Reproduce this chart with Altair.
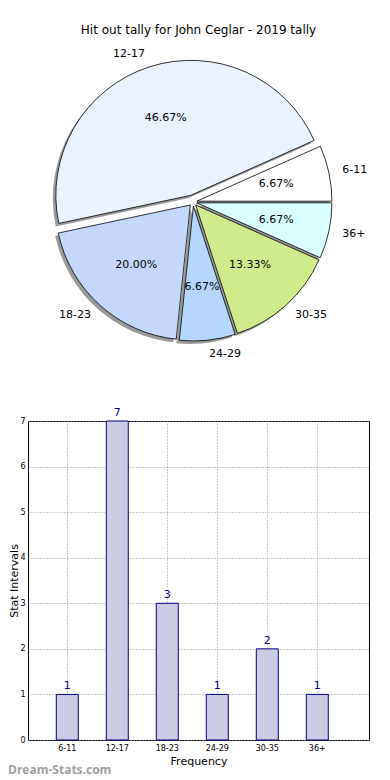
import math
import altair as alt
import pandas as pd

# ---------------- data ----------------
categories = ["6-11", "12-17", "18-23", "24-29", "30-35", "36+"]
counts = [1, 7, 3, 1, 2, 1]
slice_colors = ["#ffffff", "#eaf2fe", "#c4d8fe", "#b5d6fe", "#d0eb8b", "#daffff"]
explode_px = [4, 7, 4, 4, 4, 4]
y_ticks = [0, 1, 2, 3, 4, 5, 6, 7]
title_text = "Hit out tally for John Ceglar - 2019 tally"
watermark = ["Dream-Stats.com"]

TOTAL = sum(counts)
FONT = "DejaVu Sans"

# ---------------- layout ----------------
PIE_W, PIE_H = 341, 340
BAR_W, BAR_H = 341, 319
CX, CY, R = 165, 159, 135
SH_DX, SH_DY = -3, 3

pie_df = pd.DataFrame({
    "category": categories,
    "count": counts,
    "explode": explode_px,
    "order": list(range(len(categories))),
})

theta_scale = alt.Scale(domain=[0, TOTAL], range=[2.5 * math.pi, 0.5 * math.pi])
color_scale = alt.Scale(domain=categories, range=slice_colors)

base = alt.Chart(pie_df).transform_window(
    cum="sum(count)", sort=[alt.SortField("order")], frame=[None, 0]
).transform_calculate(
    start="datum.cum - datum.count",
    mid="datum.cum - datum.count / 2",
    ang=f"2 * PI * (datum.cum - datum.count / 2) / {TOTAL}",
    cx=f"{CX} + datum.explode * cos(datum.ang)",
    cy=f"{CY} - datum.explode * sin(datum.ang)",
    sx=f"datum.cx + ({SH_DX})",
    sy=f"datum.cy + ({SH_DY})",
    pct=f"format(100 * datum.count / {TOTAL}, '.2f') + '%'",
    right="cos(datum.ang) >= 0",
)

shadow = base.mark_arc(radius=R, fill="#8f8f8f", opacity=0.9).encode(
    x=alt.X("sx:Q", scale=None),
    y=alt.Y("sy:Q", scale=None),
    theta=alt.Theta("start:Q", scale=theta_scale, stack=False),
    theta2="cum:Q",
)

slices = base.mark_arc(radius=R, stroke="black", strokeWidth=0.8).encode(
    x=alt.X("cx:Q", scale=None),
    y=alt.Y("cy:Q", scale=None),
    theta=alt.Theta("start:Q", scale=theta_scale, stack=False),
    theta2="cum:Q",
    color=alt.Color("category:N", scale=color_scale, legend=None),
)

pct_text = base.mark_text(radius=R * 0.6, font=FONT, fontSize=11, color="black").encode(
    x=alt.X("cx:Q", scale=None),
    y=alt.Y("cy:Q", scale=None),
    theta=alt.Theta("mid:Q", scale=theta_scale, stack=False),
    text="pct:N",
)

lab_right = base.transform_filter("datum.right").mark_text(
    radius=R * 1.1, font=FONT, fontSize=11, color="black", align="left", baseline="middle"
).encode(
    x=alt.X("cx:Q", scale=None),
    y=alt.Y("cy:Q", scale=None),
    theta=alt.Theta("mid:Q", scale=theta_scale, stack=False),
    text="category:N",
)

lab_left = base.transform_filter("!datum.right").mark_text(
    radius=R * 1.1, font=FONT, fontSize=11, color="black", align="right", baseline="middle"
).encode(
    x=alt.X("cx:Q", scale=None),
    y=alt.Y("cy:Q", scale=None),
    theta=alt.Theta("mid:Q", scale=theta_scale, stack=False),
    text="category:N",
)

pie = alt.layer(shadow, slices, pct_text, lab_right, lab_left).properties(
    width=PIE_W,
    height=PIE_H,
    title=alt.Title(title_text, font=FONT, fontSize=12, fontWeight="normal",
                    color="black", anchor="middle", offset=6),
)

# ---------------- bar chart ----------------
bar_df = pd.DataFrame({"category": categories, "count": counts})

x_enc = alt.X(
    "category:N", sort=categories,
    scale=alt.Scale(paddingInner=0.56, paddingOuter=0.69, align=0.41),
    axis=alt.Axis(title="Frequency", labelAngle=0, labelFontSize=8, labelFont=FONT,
                  titleFont=FONT, titleFontSize=11, titleFontWeight="normal",
                  labelColor="black", titleColor="black",
                  grid=True, gridDash=[1, 2], gridColor="#999999", bandPosition=0.5,
                  ticks=False, domain=False, labelPadding=4, titlePadding=3),
)
y_enc = alt.Y(
    "count:Q", scale=alt.Scale(domain=[0, 7], nice=False),
    axis=alt.Axis(title="Stat Intervals", values=y_ticks, labelFontSize=8, labelFont=FONT,
                  titleFont=FONT, titleFontSize=11, titleFontWeight="normal",
                  labelColor="black", titleColor="black",
                  titleAngle=270, titleAlign="center", titleBaseline="alphabetic",
                  titleX=-11, titleY=BAR_H / 2,
                  grid=True, gridDash=[1, 2], gridColor="#999999",
                  ticks=False, domain=False, labelPadding=3),
)

bars = alt.Chart(bar_df).mark_bar(fill="#cbcce3", stroke="#000080", strokeWidth=1).encode(
    x=x_enc, y=y_enc
)
bar_labels = alt.Chart(bar_df).mark_text(
    baseline="bottom", dy=-3, color="#000080", fontSize=11, font=FONT
).encode(
    x=alt.X("category:N", sort=categories),
    y=alt.Y("count:Q"),
    text="count:Q",
)
wm = alt.Chart(pd.DataFrame({"t": watermark})).mark_text(
    align="left", baseline="middle", font="Open Sans", fontSize=12, fontWeight="bold",
    color="#a0a0a0"
).encode(
    x=alt.value(-20), y=alt.value(BAR_H + 30), text="t:N"
)

bar = alt.layer(bars, bar_labels, wm).properties(
    width=BAR_W, height=BAR_H,
    view=alt.ViewBackground(stroke="black", strokeWidth=1),
)

chart = alt.vconcat(pie, bar, spacing=38, bounds="flush").properties(
    padding={"left": -1, "top": 16, "right": 0, "bottom": 0},
).configure_view(strokeWidth=0)

chart.save("out.html", embed_options={"renderer": "svg", "actions": False})
